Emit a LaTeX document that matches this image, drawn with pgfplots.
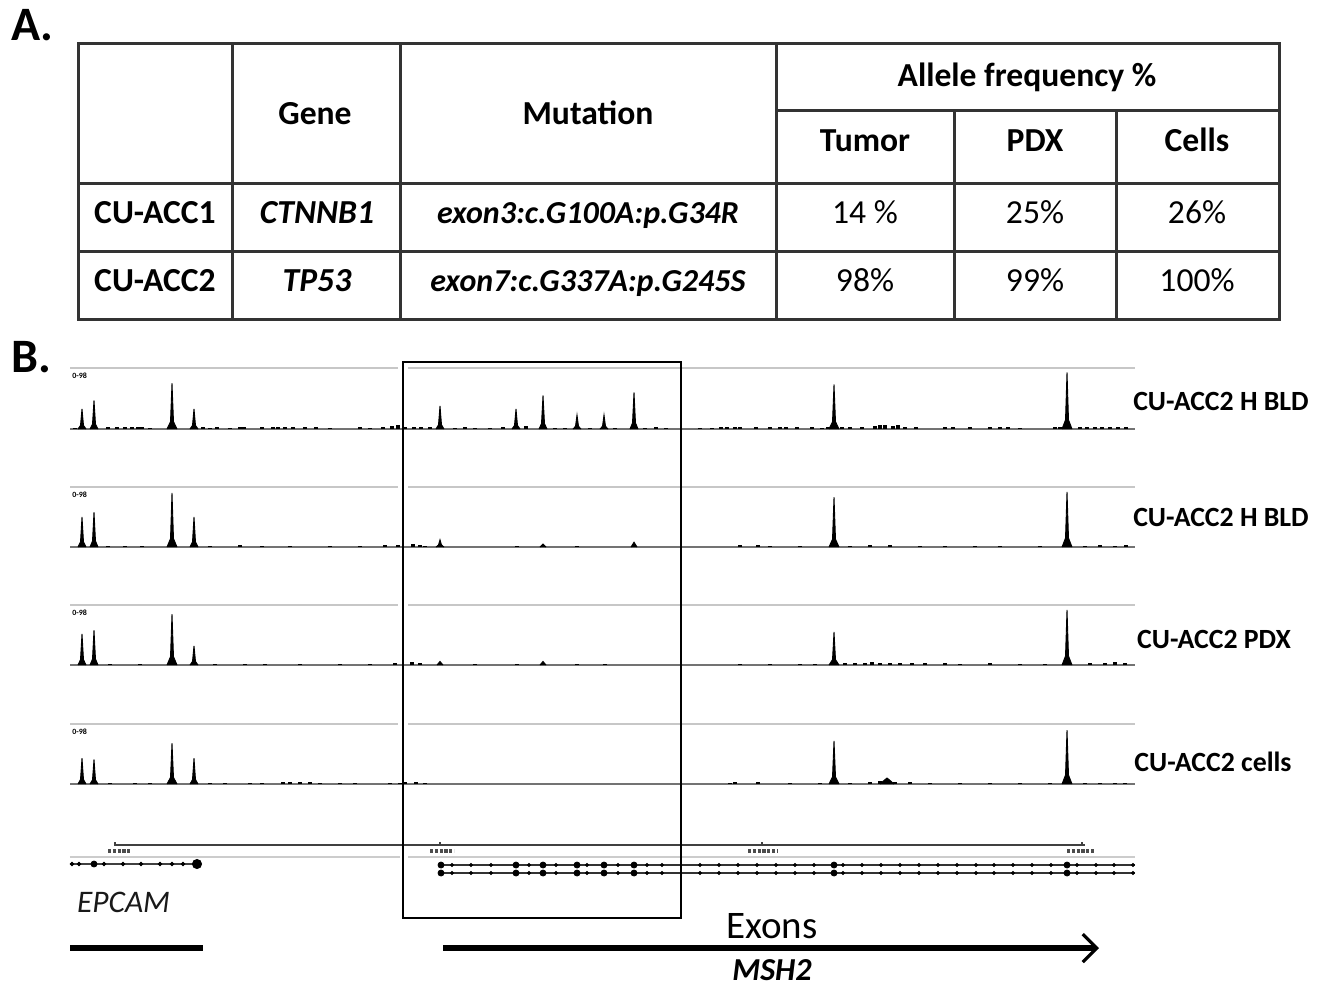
\documentclass[border=0pt]{standalone}
\usepackage{pgfplots}
\pgfplotsset{compat=1.18}
\usepackage{fontspec}
\setmainfont{Carlito}
\usetikzlibrary{arrows.meta}
\pgfplotsset{
  track/.style={hide axis, scale only axis, width=532.5pt, height=30pt,
    xmin=70, xmax=1135, ymin=0, ymax=1, clip=false, anchor=south west,
    unbounded coords=jump},
  topline/.style={black!22, line width=1pt},
  baseline/.style={black!55, line width=0.8pt},
  peaks/.style={draw=black, line width=0.45pt, fill=black},
  noise/.style={ycomb, black, line width=1.8pt},
}
\newcommand{\scalelab}{\fontsize{4}{4}\selectfont\bfseries 0-98}
\begin{document}
\begin{tikzpicture}
\begin{scope}[x=0.5pt,y=-0.5pt]
\useasboundingbox (0,0) rectangle (1326,986);
% ---------- Panel A : table ----------
\node[anchor=west, font=\fontsize{24}{26}\selectfont\bfseries, inner sep=0pt] at (11,25) {A.};
\begin{scope}[line width=1.5pt, black!80]
\draw (78,43) rectangle (1279,319);
\foreach \x in {232,400,776} \draw (\x,43)--(\x,319);
\foreach \x in {954,1116} \draw (\x,110)--(\x,319);
\draw (776,110)--(1279,110);
\draw (78,183)--(1279,183);
\draw (78,251)--(1279,251);
\end{scope}
\begin{scope}[every node/.style={font=\fontsize{16.8}{19}\selectfont\bfseries, text height=1.55ex, text depth=0.3ex, yshift=-2.5pt}]
\node at (315,114) {Gene};
\node at (588,114) {Mutation};
\node at (1027,76) {Allele frequency \%};
\node at (865,141) {Tumor};
\node at (1035,141) {PDX};
\node at (1197,141) {Cells};
\node at (155,213) {CU-ACC1};
\node at (155,281) {CU-ACC2};
\node at (317,213) {\itshape CTNNB1};
\node at (317,281) {\itshape TP53};
\node[font=\fontsize{16}{19}\selectfont\bfseries\itshape] at (588,213) {exon3:c.G100A:p.G34R};
\node[font=\fontsize{16}{19}\selectfont\bfseries\itshape] at (588,281) {exon7:c.G337A:p.G245S};
\end{scope}
\begin{scope}[every node/.style={font=\fontsize{16.8}{19}\selectfont, text height=1.55ex, text depth=0.3ex, yshift=-2.5pt}]
\node at (865,213) {14 \%};
\node at (1035,213) {25\%};
\node at (1197,213) {26\%};
\node at (865,281) {98\%};
\node at (1035,281) {99\%};
\node at (1197,281) {100\%};
\end{scope}
\node[anchor=west, font=\fontsize{24}{26}\selectfont\bfseries, inner sep=0pt] at (11,357) {B.};
\end{scope}

% ---------- Track 1 ----------
\begin{axis}[track, at={(35pt,-214.5pt)}, height=30.5pt]
\addplot[topline] coordinates {(70,1)(398,1) (400,nan) (408,1)(1135,1)};
\addplot[baseline] coordinates {(70,0)(1135,0)};
\addplot[noise] coordinates {(75,0.02)(108,0.03)(117,0.03)(125,0.03)(132,0.04)(138,0.04)(142,0.03)(150,0.02)(203,0.03)(210,0.02)(217,0.03)(230,0.02)(240,0.04)(244,0.04)(262,0.03)(273,0.04)(278,0.04)(285,0.03)(293,0.04)(305,0.03)(316,0.03)(330,0.02)(360,0.03)(370,0.02)(383,0.03)(392,0.05)(398,0.06)(405,0.04)(414,0.04)(421,0.03)(430,0.03)(455,0.02)(465,0.03)(475,0.02)(490,0.02)(503,0.03)(526,0.05)(555,0.02)(565,0.02)(590,0.02)(615,0.02)(645,0.02)(656,0.03)(666,0.02)(700,0.02)(712,0.02)(721,0.03)(727,0.04)(735,0.03)(740,0.04)(756,0.03)(770,0.03)(780,0.04)(786,0.04)(797,0.03)(812,0.03)(822,0.02)(828,0.04)(842,0.03)(850,0.03)(862,0.03)(875,0.05)(880,0.06)(885,0.06)(893,0.05)(898,0.06)(905,0.04)(916,0.03)(945,0.03)(953,0.03)(970,0.04)(990,0.03)(1000,0.03)(1008,0.03)(1020,0.02)(1055,0.03)(1060,0.04)(1080,0.03)(1087,0.04)(1095,0.04)(1102,0.03)(1110,0.04)(1118,0.03)(1126,0.03)};
\addplot[peaks] coordinates {(78,0)(80.5,0.06)(82,0.33)(83.5,0.06)(86,0) (90,nan) (90,0)(92.5,0.08)(94,0.47)(95.5,0.08)(98,0) (100,nan) (167,0)(170.5,0.12)(172,0.75)(173.5,0.12)(177,0) (180,nan) (190,0)(192.5,0.06)(194,0.33)(195.5,0.06)(198,0) (200,nan) (436,0)(438.5,0.07)(440,0.38)(441.5,0.07)(444,0) (450,nan) (512,0)(514.5,0.06)(516,0.33)(517.5,0.06)(520,0) (530,nan) (539,0)(541.5,0.09)(543,0.55)(544.5,0.09)(547,0) (560,nan) (573,0)(575.5,0.045)(577,0.23)(578.5,0.045)(581,0) (590,nan) (600,0)(602.5,0.045)(604,0.23)(605.5,0.045)(608,0) (620,nan) (630,0)(632.5,0.1)(634,0.6)(635.5,0.1)(638,0) (700,nan) (829,0)(832.5,0.12)(834,0.73)(835.5,0.12)(839,0) (900,nan) (1062,0)(1065.5,0.15)(1067,0.93)(1068.5,0.15)(1072,0)};
\node[anchor=west, inner sep=0pt] at (axis cs:72,0.87) {\scalelab};
\end{axis}

% ---------- Track 2 ----------
\begin{axis}[track, at={(35pt,-273.5pt)}]
\addplot[topline] coordinates {(70,1)(398,1) (400,nan) (408,1)(1135,1)};
\addplot[baseline] coordinates {(70,0)(1135,0)};
\addplot[noise] coordinates {(108,0.02)(125,0.02)(142,0.02)(210,0.02)(240,0.03)(262,0.02)(290,0.02)(330,0.02)(360,0.02)(385,0.03)(398,0.03)(413,0.05)(420,0.03)(425,0.02)(517,0.02)(577,0.02)(740,0.03)(758,0.03)(770,0.02)(800,0.02)(850,0.02)(870,0.03)(890,0.03)(920,0.02)(945,0.02)(975,0.02)(1000,0.02)(1040,0.02)(1085,0.02)(1100,0.03)(1115,0.02)(1126,0.03)};
\addplot[peaks] coordinates {(78,0)(80.5,0.085)(82,0.5)(83.5,0.085)(86,0) (90,nan) (90,0)(92.5,0.1)(94,0.58)(95.5,0.1)(98,0) (100,nan) (167,0)(170.5,0.14)(172,0.9)(173.5,0.14)(177,0) (180,nan) (190,0)(192.5,0.085)(194,0.5)(195.5,0.085)(198,0) (200,nan) (436,0)(438.5,0.035)(440,0.12)(441.5,0.035)(444,0) (450,nan) (540,0)(543,0.05)(546,0) (560,nan) (631,0)(634,0.08)(637,0) (700,nan) (829,0)(832.5,0.13)(834,0.83)(835.5,0.13)(839,0) (900,nan) (1062,0)(1065.5,0.15)(1067,0.92)(1068.5,0.15)(1072,0)};
\node[anchor=west, inner sep=0pt] at (axis cs:72,0.87) {\scalelab};
\end{axis}

% ---------- Track 3 ----------
\begin{axis}[track, at={(35pt,-332.5pt)}]
\addplot[topline] coordinates {(70,1)(398,1) (400,nan) (408,1)(1135,1)};
\addplot[baseline] coordinates {(70,0)(1135,0)};
\addplot[noise] coordinates {(110,0.02)(140,0.02)(215,0.02)(245,0.02)(265,0.02)(300,0.02)(340,0.02)(370,0.02)(395,0.03)(412,0.05)(420,0.03)(475,0.02)(517,0.02)(577,0.02)(605,0.02)(740,0.02)(770,0.02)(800,0.02)(815,0.02)(845,0.03)(855,0.04)(865,0.04)(872,0.05)(880,0.04)(890,0.04)(900,0.04)(912,0.03)(925,0.04)(945,0.03)(960,0.02)(990,0.03)(1020,0.02)(1045,0.02)(1090,0.03)(1105,0.04)(1115,0.05)(1125,0.03)};
\addplot[peaks] coordinates {(78,0)(80.5,0.09)(82,0.52)(83.5,0.09)(86,0) (90,nan) (90,0)(92.5,0.1)(94,0.58)(95.5,0.1)(98,0) (100,nan) (167,0)(170.5,0.14)(172,0.85)(173.5,0.14)(177,0) (180,nan) (190,0)(192.5,0.06)(194,0.32)(195.5,0.06)(198,0) (200,nan) (437,0)(440,0.06)(443,0) (450,nan) (540,0)(543,0.06)(546,0) (700,nan) (829,0)(832.5,0.09)(834,0.55)(835.5,0.09)(839,0) (900,nan) (1062,0)(1065.5,0.15)(1067,0.92)(1068.5,0.15)(1072,0)};
\node[anchor=west, inner sep=0pt] at (axis cs:72,0.87) {\scalelab};
\end{axis}

% ---------- Track 4 ----------
\begin{axis}[track, at={(35pt,-392pt)}]
\addplot[topline] coordinates {(70,1)(398,1) (400,nan) (408,1)(1135,1)};
\addplot[baseline] coordinates {(70,0)(1135,0)};
\addplot[noise] coordinates {(110,0.02)(135,0.02)(150,0.02)(210,0.02)(225,0.02)(250,0.02)(262,0.02)(283,0.03)(290,0.03)(300,0.03)(310,0.03)(320,0.02)(340,0.02)(355,0.02)(390,0.02)(400,0.02)(405,0.03)(416,0.03)(425,0.02)(730,0.02)(735,0.03)(758,0.03)(790,0.02)(820,0.02)(850,0.02)(870,0.03)(880,0.05)(895,0.04)(910,0.03)(930,0.02)(960,0.02)(990,0.02)(1020,0.02)(1050,0.02)(1085,0.02)(1100,0.02)(1115,0.02)(1125,0.02)};
\addplot[peaks] coordinates {(78,0)(80.5,0.075)(82,0.43)(83.5,0.075)(86,0) (90,nan) (90,0)(92.5,0.07)(94,0.41)(95.5,0.07)(98,0) (100,nan) (167,0)(170.5,0.11)(172,0.68)(173.5,0.11)(177,0) (180,nan) (190,0)(192.5,0.075)(194,0.43)(195.5,0.075)(198,0) (700,nan) (829,0)(832.5,0.12)(834,0.72)(835.5,0.12)(839,0) (860,nan) (880,0)(884,0.06)(887,0.1)(890,0.06)(894,0) (900,nan) (1062,0)(1065.5,0.15)(1067,0.9)(1068.5,0.15)(1072,0)};
\node[anchor=west, inner sep=0pt] at (axis cs:72,0.87) {\scalelab};
\end{axis}

% ---------- Gene models ----------
\begin{axis}[hide axis, scale only axis, width=532.5pt, height=21pt,
  xmin=70, xmax=1135, ymin=-880, ymax=-838, clip=false,
  anchor=south west, at={(35pt,-440pt)}, unbounded coords=jump]
\addplot[black!75, line width=0.9pt] coordinates {(115,-842)(115,-845)(1085,-845)};
\addplot[black!75, line width=0.7pt] coordinates {(440,-845)(440,-842) (500,nan) (762,-845)(762,-842) (900,nan) (1082,-845)(1082,-842)};
\addplot[black!70, line width=1.6pt, dash pattern=on 1.6pt off 0.8pt] coordinates {(108,-851)(130,-851) (200,nan) (430,-851)(454,-851) (600,nan) (748,-851)(777,-851) (900,nan) (1067,-851)(1095,-851)};
\addplot[black!20, line width=0.8pt] coordinates {(70,-857)(400,-857) (404,nan) (408,-857)(1135,-857)};
% EPCAM
\addplot[black!75, line width=0.6pt] coordinates {(70,-864)(198,-864)};
\addplot[only marks, mark=*, mark size=0.9pt, black] coordinates {(72,-864)(79,-864)(104,-864)(123,-864)(141,-864)(160,-864)(172,-864)(183,-864)};
\addplot[only marks, mark=*, mark size=1.5pt, black] coordinates {(94,-864)};
\addplot[only marks, mark=*, mark size=2.3pt, black] coordinates {(197,-864)};
% MSH2 transcripts
\addplot[black!80, line width=0.7pt] coordinates {(440,-865)(1135,-865)};
\addplot[black!80, line width=0.7pt] coordinates {(440,-873)(1135,-873)};
\addplot[only marks, mark=*, mark size=0.8pt, black] coordinates {(452,-865)(471,-865)(491,-865)(529,-865)(556,-865)(587,-865)(618,-865)(647,-865)(662,-865)(700,-865)(719,-865)(738,-865)(757,-865)(776,-865)(795,-865)(814,-865)(843,-865)(862,-865)(881,-865)(900,-865)(919,-865)(938,-865)(957,-865)(976,-865)(994,-865)(1013,-865)(1032,-865)(1051,-865)(1077,-865)(1096,-865)(1114,-865)(1133,-865)
(452,-873)(471,-873)(491,-873)(529,-873)(556,-873)(587,-873)(618,-873)(647,-873)(662,-873)(700,-873)(719,-873)(738,-873)(757,-873)(776,-873)(795,-873)(814,-873)(843,-873)(862,-873)(881,-873)(900,-873)(919,-873)(938,-873)(957,-873)(976,-873)(994,-873)(1013,-873)(1032,-873)(1051,-873)(1077,-873)(1096,-873)(1114,-873)(1133,-873)};
\addplot[only marks, mark=*, mark size=1.5pt, black] coordinates {(441,-865)(516,-865)(543,-865)(577,-865)(604,-865)(634,-865)(834,-865)(1067,-865)(441,-873)(516,-873)(543,-873)(577,-873)(604,-873)(634,-873)(834,-873)(1067,-873)};
\end{axis}

\begin{scope}[x=0.5pt,y=-0.5pt]
\draw[line width=1.1pt, black] (403,362) rectangle (681,918);
\begin{scope}[every node/.style={font=\fontsize{13.9}{16}\selectfont\bfseries}]
\node at (1221,401) {CU-ACC2 H BLD};
\node at (1221,517) {CU-ACC2 H BLD};
\node at (1214,639) {CU-ACC2 PDX};
\node at (1213,762) {CU-ACC2 cells};
\end{scope}
\node[anchor=west, font=\fontsize{15.7}{17}\selectfont\itshape, black!90] at (70,902) {EPCAM};
\draw[line width=2.6pt, black] (70,948) -- (203,948);
\draw[line width=2.6pt, black, -{Straight Barb[length=7pt, width=14pt, line width=1.6pt]}] (443,948) -- (1099,948);
\node[font=\fontsize{19.5}{21}\selectfont] at (772,926) {Exons};
\node[font=\fontsize{16}{18}\selectfont\bfseries\itshape] at (772,970) {MSH2};
\end{scope}
\end{tikzpicture}
\end{document}
